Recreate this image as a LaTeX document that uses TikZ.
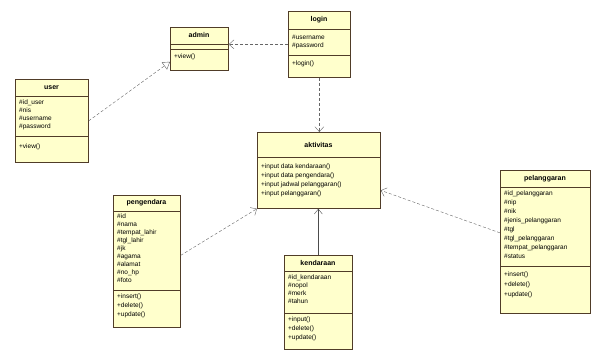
\documentclass[tikz,border=0pt]{standalone}
\usepackage{fontspec}
\setmainfont{Liberation Sans}
\usepackage{xcolor}
\usepackage{tikz}
\usetikzlibrary{arrows,arrows.meta,shapes}
\definecolor{umlfill}{RGB}{255,255,204}
\definecolor{umlline}{RGB}{80,60,40}

\begin{document}
\begin{tikzpicture}[x=1pt,y=-1pt,
  cls/.style={draw=umlline,fill=umlfill,anchor=north west,inner sep=0pt,line width=0.7pt},
  ttl/.style={font=\fontsize{7}{8}\selectfont\bfseries},
  lst/.style={font=\fontsize{6.5}{8}\selectfont,anchor=north west,align=left,inner sep=0pt},
  sep/.style={draw=umlline,line width=0.6pt},
  real/.style={densely dashed,draw=black!60,-{Triangle[open,length=7pt,width=9pt]}},
  dep/.style={densely dashed,draw=black!60,-{Straight Barb[length=5pt,width=9pt]}}]
	\useasboundingbox[fill=white] (0,0) rectangle (600,356);
	% admin
	\node[cls,minimum width=58pt,minimum height=43pt] (admin) at (170,27) {};
	\node[ttl] (admint) at (199,35) {admin};
	\draw[sep] (170,44) -- (228,44);
	\draw[sep] (170,49) -- (228,49);
	\node[lst] (adminm) at (174,54) {+view()};
	% login
	\node[cls,minimum width=62pt,minimum height=66pt] (login) at (288,11) {};
	\node[ttl] (logint) at (319,20) {login};
	\draw[sep] (288,29) -- (350,29);
	\node[lst] (logina) at (292,35) {\#username\\\#password};
	\draw[sep] (288,55) -- (350,55);
	\node[lst] (loginm) at (292,61) {+login()};
	% user
	\node[cls,minimum width=73pt,minimum height=83pt] (user) at (15,79) {};
	\node[ttl] (usert) at (51.5,88) {user};
	\draw[sep] (15,96) -- (88,96);
	\node[lst] (usera) at (19,100) {\#id\_user\\\#nis\\\#username\\\#password};
	\draw[sep] (15,136) -- (88,136);
	\node[lst] (userm) at (19,144) {+view()};
	% aktivitas
	\node[cls,minimum width=123pt,minimum height=76pt] (aktivitas) at (257,132) {};
	\node[ttl] (aktivitast) at (318.5,145) {aktivitas};
	\draw[sep] (257,157) -- (380,157);
	\node[lst,font=\fontsize{6.5}{9}\selectfont] (aktivitasm) at (261,164)
	  {+input data kendaraan()\\+input data pengendara()\\+input jadwal pelanggaran()\\+input pelanggaran()};
	% pengendara
	\node[cls,minimum width=67pt,minimum height=132pt] (pengendara) at (113,195) {};
	\node[ttl] (pengendarat) at (146.5,203) {pengendara};
	\draw[sep] (113,211) -- (180,211);
	\node[lst] (pengendaraa) at (117,214)
	  {\#id\\\#nama\\\#tempat\_lahir\\\#tgl\_lahir\\\#jk\\\#agama\\\#alamat\\\#no\_hp\\\#foto};
	\draw[sep] (113,290) -- (180,290);
	\node[lst,font=\fontsize{6.5}{9}\selectfont] (pengendaram) at (117,294) {+insert()\\+delete()\\+update()};
	% kendaraan
	\node[cls,minimum width=68pt,minimum height=94pt] (kendaraan) at (284,255) {};
	\node[ttl] (kendaraant) at (318,263) {kendaraan};
	\draw[sep] (284,271) -- (352,271);
	\node[lst] (kendaraana) at (288,275) {\#id\_kendaraan\\\#nopol\\\#merk\\\#tahun};
	\draw[sep] (284,313) -- (352,313);
	\node[lst,font=\fontsize{6.5}{9}\selectfont] (kendaraanm) at (288,317) {+input()\\+delete()\\+update()};
	% pelanggaran
	\node[cls,minimum width=90pt,minimum height=143pt] (pelanggaran) at (500,170) {};
	\node[ttl] (pelanggarant) at (545,179) {pelanggaran};
	\draw[sep] (500,187) -- (590,187);
	\node[lst,font=\fontsize{6.5}{9}\selectfont] (pelanggarana) at (504,191)
	  {\#id\_pelanggaran\\\#nip\\\#nik\\\#jenis\_pelanggaran\\\#tgl\\\#tgl\_pelanggaran\\\#tempat\_pelanggaran\\\#status};
	\draw[sep] (500,266) -- (590,266);
	\node[lst,font=\fontsize{6.5}{10}\selectfont] (pelanggaranm) at (504,272) {+insert()\\+delete()\\+update()};
	% relasi
	\draw[real] (user.east) -- ([yshift=-13pt]admin.west);
	\draw[dep] (login.west) -- (login.west -| admin.east);
	\draw[dep] (login.south) -- (login.south |- aktivitas.north);
	\draw[dep] ([yshift=6pt]pengendara.east) -- (aktivitas.south west);
	\draw[dep] ([yshift=9pt]pelanggaran.west) -- ([yshift=-20pt]aktivitas.east);
	\draw[draw=black!70,-{Straight Barb[length=5pt,width=8pt]}] (kendaraan.north) -- (kendaraan.north |- aktivitas.south);
\end{tikzpicture}
\end{document}
